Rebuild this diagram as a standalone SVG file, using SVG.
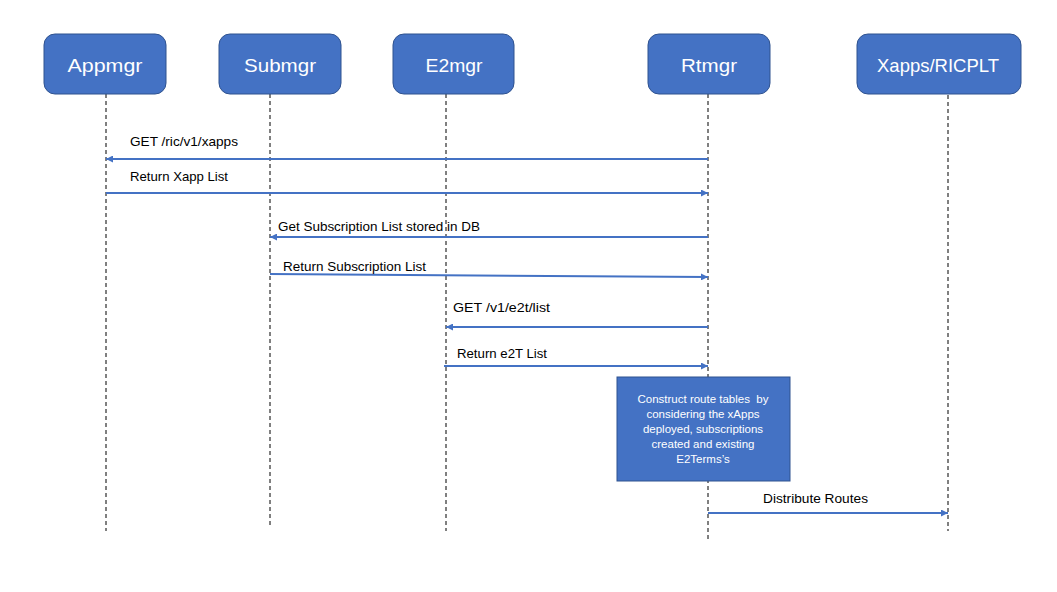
<svg xmlns="http://www.w3.org/2000/svg" width="1057" height="592" viewBox="0 0 1057 592">
<defs>
<marker id="ah" viewBox="0 0 10 10" refX="10" refY="5" markerWidth="7" markerHeight="7" markerUnits="userSpaceOnUse" orient="auto">
<path d="M0,0 L10,5 L0,10 z" fill="#4472C4"/>
</marker>
<style>
.actor{fill:#4472C4;stroke:#2F528F;stroke-width:1}
.atext{font-family:"Liberation Sans",Arial,sans-serif;font-size:19px;fill:#fff;text-anchor:middle}
.life{stroke:#000;stroke-width:1;stroke-dasharray:4,3;fill:none}
.msg{stroke:#4472C4;stroke-width:2;fill:none;marker-end:url(#ah)}
.lbl{font-family:"Liberation Sans",Arial,sans-serif;font-size:13px;fill:#000}
.ptext{font-family:"Liberation Sans",Arial,sans-serif;font-size:11.5px;fill:#fff;text-anchor:middle}
</style>
</defs>
<rect width="1057" height="592" fill="#fff"/>
<g id="lifelines">
<line class="life" x1="106" y1="94" x2="106" y2="531"/>
<line class="life" x1="270" y1="94" x2="270" y2="525"/>
<line class="life" x1="446" y1="94" x2="446" y2="531"/>
<line class="life" x1="708" y1="94" x2="708" y2="541"/>
<line class="life" x1="948" y1="95" x2="948" y2="531"/>
</g>
<g id="Appmgr"><rect class="actor" x="44" y="34" width="122" height="60" rx="11"/><text class="atext" x="105" y="72" textLength="75" lengthAdjust="spacingAndGlyphs">Appmgr</text></g>
<g id="Submgr"><rect class="actor" x="219" y="34" width="122" height="60" rx="11"/><text class="atext" x="280" y="72" textLength="72" lengthAdjust="spacingAndGlyphs">Submgr</text></g>
<g id="E2mgr"><rect class="actor" x="393" y="34" width="121" height="60" rx="11"/><text class="atext" x="454" y="72" textLength="57" lengthAdjust="spacingAndGlyphs">E2mgr</text></g>
<g id="Rtmgr"><rect class="actor" x="648" y="34" width="122" height="60" rx="11"/><text class="atext" x="709" y="72" textLength="56" lengthAdjust="spacingAndGlyphs">Rtmgr</text></g>
<g id="XappsRICPLT"><rect class="actor" x="857" y="34" width="164" height="60" rx="11"/><text class="atext" x="938" y="72" textLength="122" lengthAdjust="spacingAndGlyphs">Xapps/RICPLT</text></g>
<g id="connectors">
<line class="msg" x1="708" y1="159" x2="106" y2="159"/>
<line class="msg" x1="106" y1="193" x2="708" y2="193"/>
<line class="msg" x1="708" y1="237" x2="270" y2="237"/>
<line class="msg" x1="270" y1="274" x2="708" y2="277"/>
<line class="msg" x1="708" y1="327" x2="446" y2="327"/>
<line class="msg" x1="444" y1="366" x2="708" y2="366"/>
<line class="msg" x1="708" y1="513" x2="948" y2="513"/>
</g>
<g id="labels">
<text class="lbl" x="130" y="146" textLength="108" lengthAdjust="spacingAndGlyphs">GET /ric/v1/xapps</text>
<text class="lbl" x="130" y="181" textLength="98" lengthAdjust="spacingAndGlyphs">Return Xapp List</text>
<text class="lbl" x="278" y="231" textLength="202" lengthAdjust="spacingAndGlyphs">Get Subscription List stored in DB</text>
<text class="lbl" x="283" y="271" textLength="143" lengthAdjust="spacingAndGlyphs">Return Subscription List</text>
<text class="lbl" x="453" y="312" textLength="97" lengthAdjust="spacingAndGlyphs">GET /v1/e2t/list</text>
<text class="lbl" x="457" y="358" textLength="90" lengthAdjust="spacingAndGlyphs">Return e2T List</text>
<text class="lbl" x="763" y="503" textLength="105" lengthAdjust="spacingAndGlyphs">Distribute Routes</text>
</g>
<g id="construct">
<rect x="617" y="377" width="173" height="104" fill="#4472C4" stroke="#2F528F" stroke-width="1"/>
<text class="ptext" x="703" y="403" xml:space="preserve">Construct route tables  by</text>
<text class="ptext" x="703" y="418">considering the xApps</text>
<text class="ptext" x="703" y="433">deployed, subscriptions</text>
<text class="ptext" x="703" y="448">created and existing</text>
<text class="ptext" x="703" y="463">E2Terms’s</text>
</g>
</svg>
